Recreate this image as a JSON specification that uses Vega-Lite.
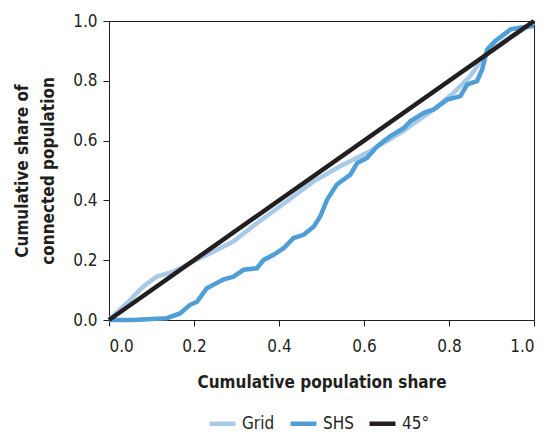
{
  "$schema": "https://vega.github.io/schema/vega-lite/v6.json",
  "width": 425,
  "height": 299,
  "autosize": {"type": "none"},
  "padding": {"left": 109, "top": 21, "right": 14, "bottom": 114},
  "background": "white",
  "config": {
    "font": "DejaVu Sans Condensed, Roboto, sans-serif",
    "view": {"stroke": "#231f20", "strokeWidth": 1},
    "axis": {
      "grid": false,
      "domainColor": "#231f20",
      "tickColor": "#231f20",
      "labelColor": "#231f20",
      "titleColor": "#231f20",
      "labelFontSize": 17,
      "titleFontSize": 17,
      "titleFontWeight": "bold",
      "tickSize": 6
    },
    "legend": {"labelFontSize": 17, "labelColor": "#231f20"}
  },
  "data": {
    "values": [
      {"series": "Grid", "x": 0.0, "y": 0.0},
      {"series": "Grid", "x": 0.042, "y": 0.056},
      {"series": "Grid", "x": 0.081, "y": 0.112},
      {"series": "Grid", "x": 0.112, "y": 0.145},
      {"series": "Grid", "x": 0.152, "y": 0.162},
      {"series": "Grid", "x": 0.19, "y": 0.19},
      {"series": "Grid", "x": 0.238, "y": 0.223},
      {"series": "Grid", "x": 0.293, "y": 0.263},
      {"series": "Grid", "x": 0.348, "y": 0.324},
      {"series": "Grid", "x": 0.419, "y": 0.397},
      {"series": "Grid", "x": 0.482, "y": 0.464},
      {"series": "Grid", "x": 0.544, "y": 0.514},
      {"series": "Grid", "x": 0.607, "y": 0.559},
      {"series": "Grid", "x": 0.686, "y": 0.626},
      {"series": "Grid", "x": 0.764, "y": 0.704},
      {"series": "Grid", "x": 0.811, "y": 0.76},
      {"series": "Grid", "x": 0.85, "y": 0.816},
      {"series": "Grid", "x": 0.89, "y": 0.894},
      {"series": "Grid", "x": 0.937, "y": 0.939},
      {"series": "Grid", "x": 1.0, "y": 0.994},
      {"series": "SHS", "x": 0.0, "y": 0.0},
      {"series": "SHS", "x": 0.057, "y": 0.0},
      {"series": "SHS", "x": 0.136, "y": 0.006},
      {"series": "SHS", "x": 0.167, "y": 0.022},
      {"series": "SHS", "x": 0.19, "y": 0.05},
      {"series": "SHS", "x": 0.207, "y": 0.061},
      {"series": "SHS", "x": 0.23, "y": 0.106},
      {"series": "SHS", "x": 0.27, "y": 0.136},
      {"series": "SHS", "x": 0.293, "y": 0.145},
      {"series": "SHS", "x": 0.317, "y": 0.168},
      {"series": "SHS", "x": 0.348, "y": 0.173},
      {"series": "SHS", "x": 0.364, "y": 0.201},
      {"series": "SHS", "x": 0.387, "y": 0.218},
      {"series": "SHS", "x": 0.411, "y": 0.24},
      {"series": "SHS", "x": 0.434, "y": 0.274},
      {"series": "SHS", "x": 0.458, "y": 0.285},
      {"series": "SHS", "x": 0.482, "y": 0.313},
      {"series": "SHS", "x": 0.497, "y": 0.346},
      {"series": "SHS", "x": 0.513, "y": 0.402},
      {"series": "SHS", "x": 0.536, "y": 0.453},
      {"series": "SHS", "x": 0.568, "y": 0.486},
      {"series": "SHS", "x": 0.584, "y": 0.525},
      {"series": "SHS", "x": 0.607, "y": 0.542},
      {"series": "SHS", "x": 0.631, "y": 0.581},
      {"series": "SHS", "x": 0.662, "y": 0.615},
      {"series": "SHS", "x": 0.694, "y": 0.642},
      {"series": "SHS", "x": 0.709, "y": 0.665},
      {"series": "SHS", "x": 0.741, "y": 0.693},
      {"series": "SHS", "x": 0.764, "y": 0.704},
      {"series": "SHS", "x": 0.796, "y": 0.737},
      {"series": "SHS", "x": 0.827, "y": 0.749},
      {"series": "SHS", "x": 0.843, "y": 0.788},
      {"series": "SHS", "x": 0.866, "y": 0.799},
      {"series": "SHS", "x": 0.878, "y": 0.838},
      {"series": "SHS", "x": 0.89, "y": 0.905},
      {"series": "SHS", "x": 0.909, "y": 0.933},
      {"series": "SHS", "x": 0.945, "y": 0.972},
      {"series": "SHS", "x": 0.969, "y": 0.978},
      {"series": "SHS", "x": 1.0, "y": 0.983},
      {"series": "45°", "x": 0.0, "y": 0.0},
      {"series": "45°", "x": 1.0, "y": 1.0}
    ]
  },
  "mark": {"type": "line", "strokeCap": "butt", "strokeJoin": "miter"},
  "encoding": {
    "x": {
      "field": "x", "type": "quantitative",
      "scale": {"domain": [0, 1], "nice": false, "zero": false},
      "axis": {"values": [0, 0.2, 0.4, 0.6, 0.8, 1.0], "format": ".1f", "title": "Cumulative population share", "titlePadding": 20, "labelPadding": 12}
    },
    "y": {
      "field": "y", "type": "quantitative",
      "scale": {"domain": [0, 1], "nice": false, "zero": false},
      "axis": {"values": [0, 0.2, 0.4, 0.6, 0.8, 1.0], "format": ".1f", "title": ["Cumulative share of", "connected population"], "titlePadding": 15, "titleLineHeight": 26, "labelPadding": 6}
    },
    "color": {
      "field": "series", "type": "nominal",
      "scale": {"domain": ["Grid", "SHS", "45°"], "range": ["#a8c9e8", "#4f9fd6", "#231f20"]},
      "legend": {"title": null, "orient": "none", "legendX": 98, "legendY": 387, "direction": "horizontal", "symbolType": "stroke", "symbolStrokeWidth": 5, "symbolSize": 676, "columnPadding": 6, "labelOffset": 4}
    },
    "strokeWidth": {
      "field": "series", "type": "nominal",
      "scale": {"domain": ["Grid", "SHS", "45°"], "range": [4.5, 4.5, 6]},
      "legend": null
    }
  }
}
